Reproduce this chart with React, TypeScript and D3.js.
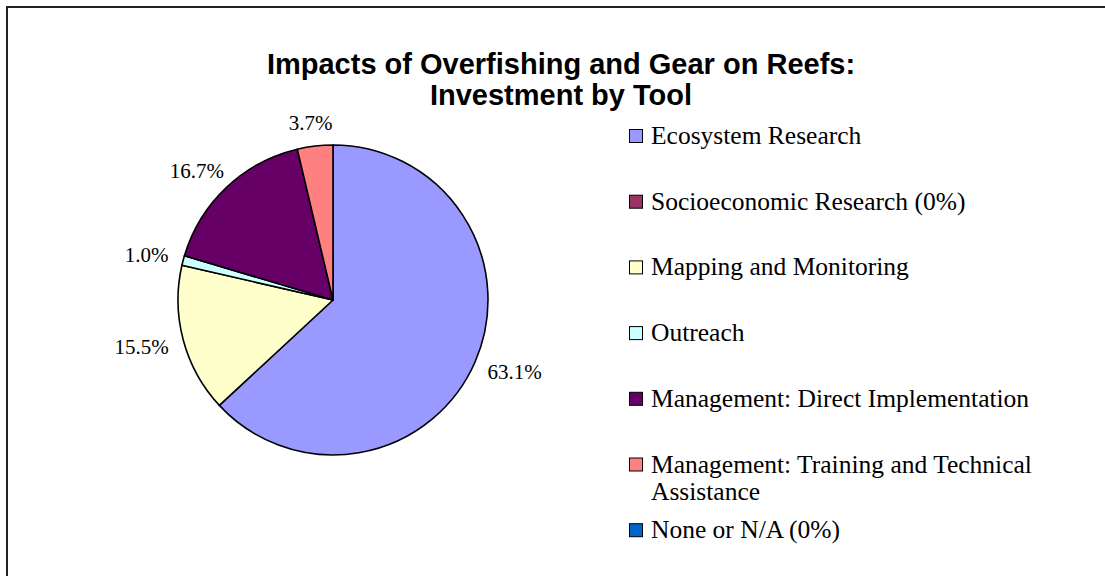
import React from "react";
import * as d3 from "d3";

const titleLines = ["Impacts of Overfishing and Gear on Reefs:", "Investment by Tool"];
const categories = [
  "Ecosystem Research",
  "Socioeconomic Research (0%)",
  "Mapping and Monitoring",
  "Outreach",
  "Management: Direct Implementation",
  "Management: Training and Technical Assistance",
  "None or N/A (0%)",
];
const legendLines = [
  ["Ecosystem Research"],
  ["Socioeconomic Research (0%)"],
  ["Mapping and Monitoring"],
  ["Outreach"],
  ["Management: Direct Implementation"],
  ["Management: Training and Technical", "Assistance"],
  ["None or N/A (0%)"],
];
const values = [63.1, 0, 15.5, 1.0, 16.7, 3.7, 0];
const colors = ["#9999FF", "#993366", "#FFFFCC", "#CCFFFF", "#660066", "#FF8080", "#0066CC"];

const W = 1105;
const H = 576;
const cx = 333;
const cy = 300;
const R = 155;
const labelFont = 21;
const legendFont = 25.5;

function textWidth(s: string, size: number) {
  let w = 0;
  for (const ch of s) {
    if (ch === ".") w += 0.25;
    else if (ch === "%") w += 0.833;
    else w += 0.5;
  }
  return w * size;
}

export default function App() {
  const pie = d3
    .pie<number>()
    .sort(null)
    .value((d) => d);
  const arcs = pie(values);
  const arcGen = d3.arc<d3.PieArcDatum<number>>().innerRadius(0).outerRadius(R);

  const legendX = 629;
  const legendY0 = 144;
  const legendStep = 65.7;
  const lineStep = 27;

  return (
    <svg
      width={W}
      height={H}
      style={{ position: "absolute", left: 0, top: 0, background: "#fff" }}
    >
      <rect x={7} y={7} width={1200} height={700} fill="#fff" stroke="#222" strokeWidth={2} />
      <g fontFamily="'Liberation Sans', Arial, sans-serif" fontWeight="bold" fontSize={29} textAnchor="middle">
        {titleLines.map((t, i) => (
          <text key={i} x={561} y={74 + i * 31}>
            {t}
          </text>
        ))}
      </g>
      <g transform={`translate(${cx},${cy})`}>
        {arcs
          .filter((a) => a.value > 0)
          .map((a, i) => (
            <path
              key={i}
              d={arcGen(a) || ""}
              fill={colors[a.index]}
              stroke="#000"
              strokeWidth={1.6}
              strokeLinejoin="round"
            />
          ))}
        {arcs
          .filter((a) => a.value > 0)
          .map((a, i) => {
            const mid = (a.startAngle + a.endAngle) / 2;
            const dx = Math.sin(mid);
            const dy = -Math.cos(mid);
            const label = `${a.value.toFixed(1)}%`;
            const w = textWidth(label, labelFont);
            const h = 15;
            const g = 16;
            const x = (R + g) * dx + (dx * w) / 2;
            const y = (R + g) * dy + (dy * h) / 2;
            return (
              <text
                key={i}
                x={x}
                y={y}
                dy="0.36em"
                textAnchor="middle"
                fontFamily="'Liberation Serif', 'Times New Roman', serif"
                fontSize={labelFont}
                fill="#000"
              >
                {label}
              </text>
            );
          })}
      </g>
      <g fontFamily="'Liberation Serif', 'Times New Roman', serif" fontSize={legendFont} fill="#000">
        {categories.map((c, i) => {
          const by = legendY0 + i * legendStep;
          return (
            <g key={c}>
              <rect
                x={legendX + 0.5}
                y={by - 15 + 0.5}
                width={13}
                height={13}
                fill={colors[i]}
                stroke="#000"
                strokeWidth={1}
              />
              {legendLines[i].map((ln, j) => (
                <text key={j} x={651} y={by + j * lineStep}>
                  {ln}
                </text>
              ))}
            </g>
          );
        })}
      </g>
    </svg>
  );
}
